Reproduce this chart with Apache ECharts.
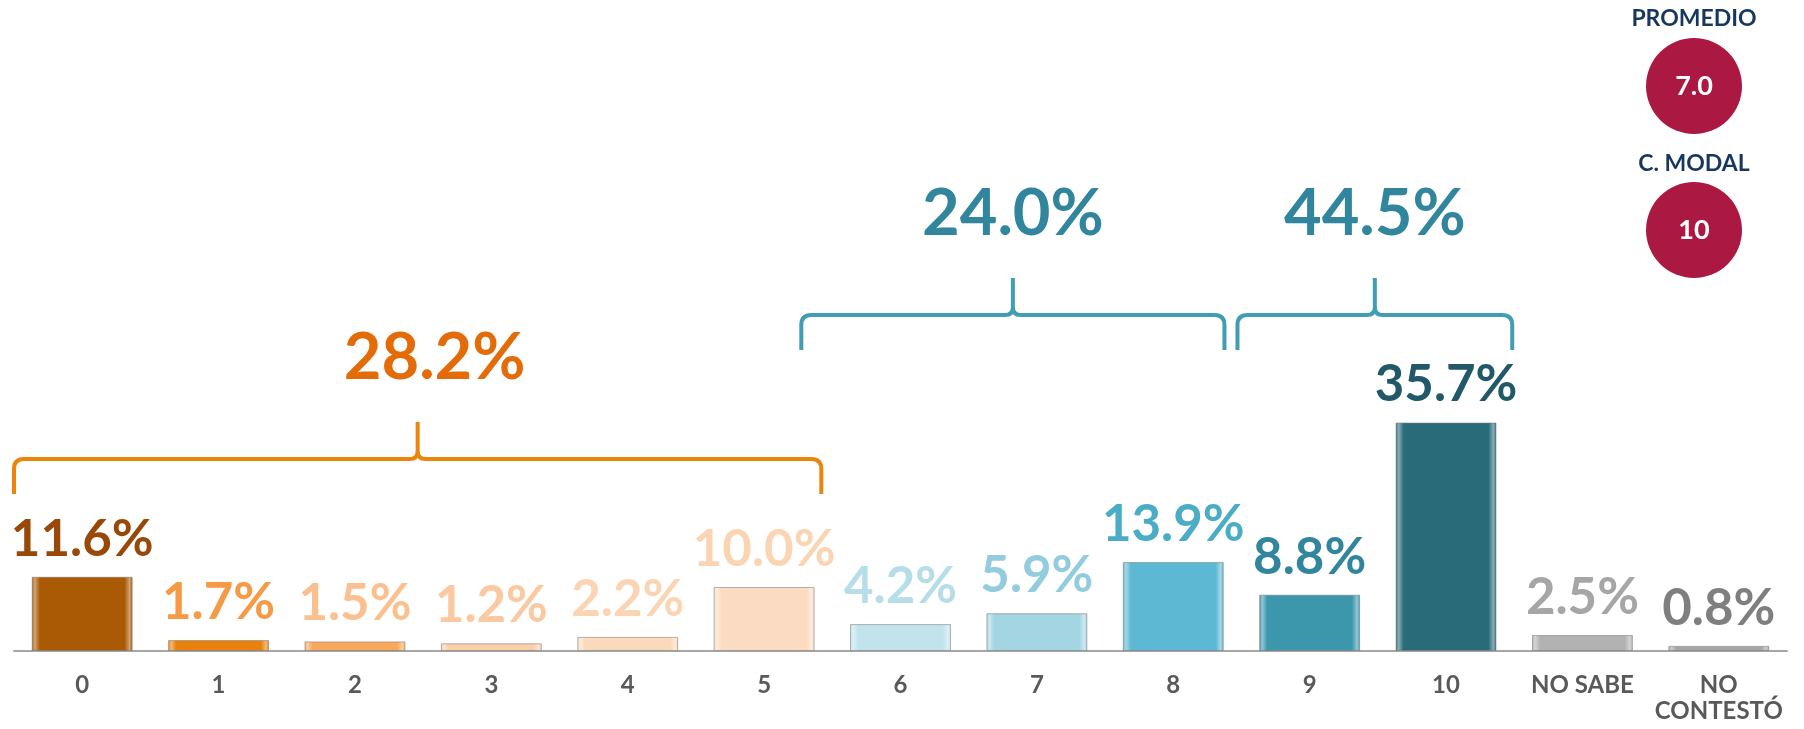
<!DOCTYPE html>
<html>
<head>
<meta charset="utf-8">
<style>
  html, body { margin: 0; padding: 0; background: #fff; }
  #main { width: 1804px; height: 729px; }
</style>
</head>
<body>
<div id="main"></div>
<script src="https://cdn.jsdelivr.net/npm/echarts@6/dist/echarts.min.js"></script>
<script>
// datos de la grafica
var categorias = ['0', '1', '2', '3', '4', '5', '6', '7', '8', '9', '10', 'NO SABE', 'NO\nCONTESTÓ'];
var porcentajes = [11.6, 1.7, 1.5, 1.2, 2.2, 10.0, 4.2, 5.9, 13.9, 8.8, 35.7, 2.5, 0.8];

// agrupaciones con llave: categoria inicial, final y total
var gruposDesde = [0, 6, 9];
var gruposHasta = [5, 8, 10];
var gruposTotal = [28.2, 24.0, 44.5];

var promedio = '7.0';
var modal = '10';

// estilos
var coloresBarra = ['#AA5A04', '#E8820C', '#F8A95C', '#FAD0A8', '#FBD9BB', '#FBDCC2',
  '#C2E3EC', '#A4D5E2', '#5CB8D3', '#3C97AD', '#2A6B7A', '#B2B2B2', '#A6A6A6'];
var coloresEtiqueta = ['#984807', '#F79A45', '#FAC08F', '#FAC9A2', '#FBD4B4', '#FBD4B4',
  '#B7DEE8', '#93CDDD', '#4BACC6', '#31859C', '#215968', '#A6A6A6', '#7F7F7F'];
var coloresLlave = ['#EC850C', '#419DB3', '#419DB3'];
var coloresTotal = ['#E36C09', '#31859C', '#31859C'];
var nivelLlave = [30, 52.5, 52.5];
var ajusteLlave = [[0, -11], [-31, -17], [-4, -2]];
var desplazaTotal = [17, 0, 0];

function aclarar(hex, t) {
  var n = parseInt(hex.slice(1), 16);
  var r = (n >> 16) & 255, g = (n >> 8) & 255, b = n & 255;
  r = Math.round(r + (255 - r) * t);
  g = Math.round(g + (255 - g) * t);
  b = Math.round(b + (255 - b) * t);
  return 'rgb(' + r + ',' + g + ',' + b + ')';
}

var datosBarra = porcentajes.map(function (v, i) {
  var c = coloresBarra[i];
  return {
    value: v,
    itemStyle: {
      color: new echarts.graphic.LinearGradient(0, 0, 1, 0, [
        { offset: 0, color: c },
        { offset: 0.03, color: aclarar(c, 0.45) },
        { offset: 0.08, color: c },
        { offset: 0.92, color: c },
        { offset: 0.97, color: aclarar(c, 0.45) },
        { offset: 1, color: c }
      ])
    },
    label: { color: coloresEtiqueta[i] }
  };
});

var datosLlave = gruposDesde.map(function (d, i) {
  return [d, gruposHasta[i], gruposTotal[i]];
});

var myChart = echarts.init(document.getElementById('main'));

var option = {
  animation: false,
  grid: { left: 14, right: 17, top: 11, bottom: 78 },
  xAxis: {
    type: 'category',
    data: categorias,
    axisLine: { lineStyle: { color: '#A6A6A6', width: 2 } },
    axisTick: { length: 8, lineStyle: { color: '#A6A6A6', width: 2 } },
    axisLabel: {
      interval: 0,
      margin: 21,
      color: '#595959',
      fontFamily: 'Lato',
      fontWeight: 'bold',
      fontSize: 24,
      lineHeight: 26
    }
  },
  yAxis: { type: 'value', min: 0, max: 100, show: false },
  series: [
    {
      type: 'bar',
      barWidth: '74%',
      data: datosBarra,
      itemStyle: { borderColor: 'rgba(120,120,120,0.55)', borderWidth: 1 },
      label: {
        show: true,
        position: 'top',
        distance: 12,
        fontFamily: 'Lato',
        fontWeight: 'bold',
        fontSize: 51,
        formatter: function (p) { return p.value.toFixed(1) + '%'; }
      }
    },
    {
      type: 'custom',
      data: datosLlave,
      clip: false,
      silent: true,
      encode: { x: 0, y: 2 },
      renderItem: function (params, api) {
        var i = params.dataIndex;
        var banda = api.size([1, 0])[0];
        var y = api.coord([0, nivelLlave[i]])[1];
        var izq = api.coord([api.value(0), 0])[0] - banda / 2 + ajusteLlave[i][0];
        var der = api.coord([api.value(1), 0])[0] + banda / 2 + ajusteLlave[i][1];
        var mid = (izq + der) / 2;
        var r = 10, r2 = 8, sube = 37, baja = 35;
        var d = 'M' + izq + ',' + (y + baja) + ' L' + izq + ',' + (y + r) +
          ' Q' + izq + ',' + y + ' ' + (izq + r) + ',' + y +
          ' L' + (mid - r2) + ',' + y +
          ' Q' + mid + ',' + y + ' ' + mid + ',' + (y - r2) +
          ' L' + mid + ',' + (y - sube) +
          ' M' + mid + ',' + (y - r2) +
          ' Q' + mid + ',' + y + ' ' + (mid + r2) + ',' + y +
          ' L' + (der - r) + ',' + y +
          ' Q' + der + ',' + y + ' ' + der + ',' + (y + r) +
          ' L' + der + ',' + (y + baja);
        return {
          type: 'group',
          children: [
            {
              type: 'path',
              shape: { pathData: d },
              style: { fill: null, stroke: coloresLlave[i], lineWidth: 4 }
            },
            {
              type: 'text',
              x: mid + desplazaTotal[i],
              y: y - sube - 64,
              style: {
                text: api.value(2).toFixed(1) + '%',
                fill: coloresTotal[i],
                fontFamily: 'Lato',
                fontWeight: 'bold',
                fontSize: 65,
                align: 'center',
                verticalAlign: 'middle'
              }
            }
          ]
        };
      }
    }
  ],
  graphic: [
    { type: 'text', x: 1694, y: 19, style: { text: 'PROMEDIO', fill: '#17375E', fontFamily: 'Lato', fontWeight: 'bold', fontSize: 23, align: 'center', verticalAlign: 'middle' } },
    { type: 'circle', shape: { cx: 1694, cy: 86, r: 48 }, style: { fill: '#AB1943' } },
    { type: 'text', x: 1694, y: 86, style: { text: promedio, fill: '#fff', fontFamily: 'Lato', fontWeight: 'bold', fontSize: 27, align: 'center', verticalAlign: 'middle' } },
    { type: 'text', x: 1694, y: 164, style: { text: 'C. MODAL', fill: '#17375E', fontFamily: 'Lato', fontWeight: 'bold', fontSize: 23, align: 'center', verticalAlign: 'middle' } },
    { type: 'circle', shape: { cx: 1694, cy: 230, r: 48 }, style: { fill: '#AB1943' } },
    { type: 'text', x: 1694, y: 230, style: { text: modal, fill: '#fff', fontFamily: 'Lato', fontWeight: 'bold', fontSize: 27, align: 'center', verticalAlign: 'middle' } }
  ]
};

myChart.setOption(option);
</script>
</body>
</html>
